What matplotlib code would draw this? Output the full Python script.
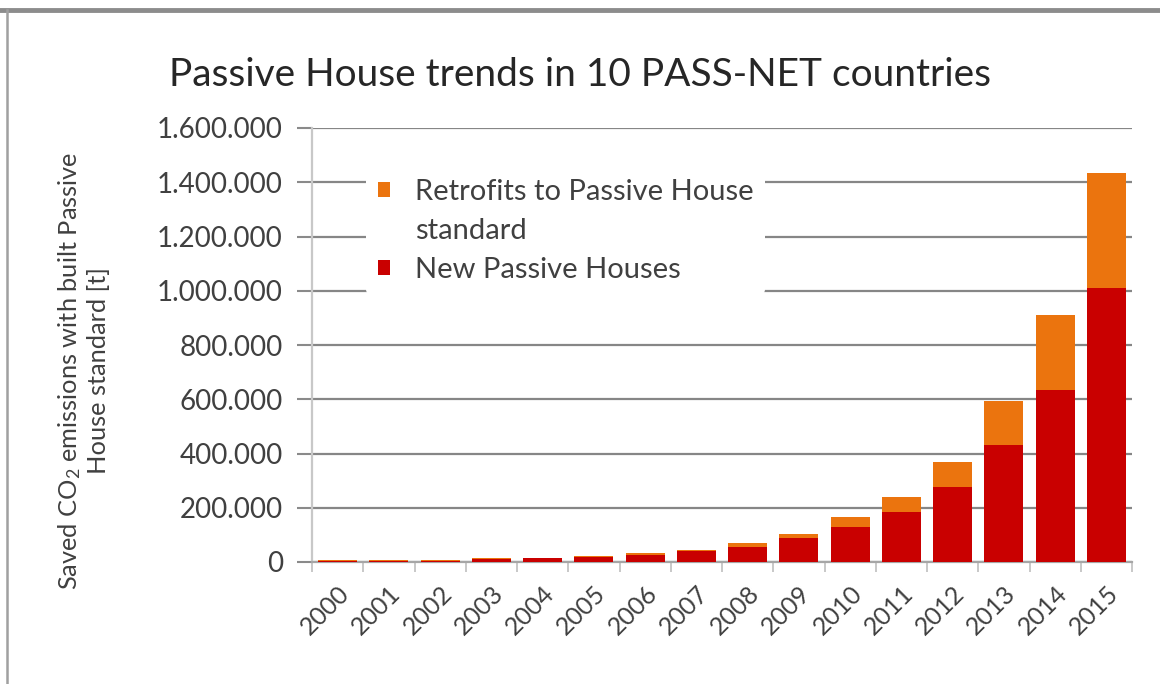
import matplotlib
matplotlib.use("Agg")
import matplotlib.pyplot as plt
from matplotlib.ticker import FuncFormatter, MultipleLocator, FixedLocator
from matplotlib.lines import Line2D
from matplotlib.patches import Rectangle

plt.rcParams['font.family'] = ['Lato', 'DejaVu Sans']
plt.rcParams['mathtext.fontset'] = 'custom'
plt.rcParams['mathtext.rm'] = 'Lato'
plt.rcParams['mathtext.default'] = 'regular'

years = ["2000", "2001", "2002", "2003", "2004", "2005", "2006", "2007",
         "2008", "2009", "2010", "2011", "2012", "2013", "2014", "2015"]
new_houses = [5000, 5000, 5000, 11000, 13000, 18000, 27000, 40000,
              55000, 88000, 129000, 184000, 276000, 431000, 634000, 1010000]
retrofits = [1000, 1000, 1000, 3000, 3000, 4000, 5000, 6000,
             15000, 14000, 37000, 56000, 92000, 163000, 276000, 423000]

title = "Passive House trends in 10 PASS-NET countries"
ylabel = "Saved CO$_2$ emissions with built Passive\nHouse standard [t]"
label_retro_1 = "Retrofits to Passive House"
label_retro_2 = "standard"
label_new = "New Passive Houses"

RED = "#C90000"
ORANGE = "#EB740E"
TXT = "#404040"

fig = plt.figure(figsize=(11.6, 6.84), dpi=100)
ax = fig.add_axes([312/1160, 1 - 562/684, 820/1160, 434/684])

x = list(range(len(years)))
b1 = ax.bar(x, new_houses, width=0.76, color=RED, label=label_new, zorder=3)
b2 = ax.bar(x, retrofits, width=0.76, bottom=new_houses, color=ORANGE,
            label=label_retro_1, zorder=3)

ax.set_xlim(-0.5, len(years) - 0.5)
ax.set_ylim(0, 1600000)
ax.yaxis.set_major_locator(MultipleLocator(200000))
ax.yaxis.set_major_formatter(FuncFormatter(lambda v, p: f"{int(v):,}".replace(",", ".")))

ax.set_xticks(x)
ax.set_xticklabels(years, rotation=45, ha='right', rotation_mode='anchor',
                   fontsize=18, color=TXT)
ax.xaxis.set_minor_locator(FixedLocator([i + 0.5 for i in range(-1, len(years))]))
ax.tick_params(axis='x', which='major', length=0, pad=14)
ax.tick_params(axis='x', which='minor', length=7, color='#BFBFBF', width=1.2)
ax.tick_params(axis='y', which='major', length=11, color='#8A8A8A', width=1.5,
               labelsize=20, labelcolor=TXT, pad=10)

ax.yaxis.grid(True, color='#868686', linewidth=1.6, zorder=0)
ax.set_axisbelow(True)
gl = ax.get_ygridlines()
gl[-1].set_visible(False)
ax.yaxis.get_major_ticks()[-1].tick1line.set_visible(False)

for s in ['top', 'right']:
    ax.spines[s].set_visible(False)
ax.spines['left'].set_color('#C8C8C8')
ax.spines['left'].set_linewidth(1.6)
ax.spines['bottom'].set_color('#A6A6A6')
ax.spines['bottom'].set_linewidth(1.6)

ax.set_title(title, fontsize=28, color='#262626', pad=0,
             x=(580 - 312) / 820, y=1 + (128 - 86) / 434)

ax.set_ylabel(ylabel, fontsize=18.3, color=TXT, ha='center', va='center',
              multialignment='center')
ax.yaxis.set_label_coords(-0.279, 0.44)

blank = Rectangle((0, 0), 1, 1, facecolor='none', edgecolor='none')
leg = ax.legend(handles=[b2, blank, b1],
                labels=[label_retro_1, label_retro_2, label_new],
                loc='upper left', bbox_to_anchor=(0.066, 0.91),
                frameon=True, facecolor='white', edgecolor='none', framealpha=1,
                fontsize=21, handlelength=0.42, handleheight=0.42,
                handletextpad=0.85, labelspacing=0.45, borderpad=0.4,
                borderaxespad=0)
for t in leg.get_texts():
    t.set_color(TXT)
leg.set_zorder(5)

fig.add_artist(Line2D([0, 1], [1 - 10/684, 1 - 10/684], transform=fig.transFigure,
                      color='#8C8C8C', linewidth=3.5))
fig.add_artist(Line2D([7/1160, 7/1160], [0, 1 - 10/684], transform=fig.transFigure,
                      color='#A0A0A0', linewidth=1.8))

fig.savefig("out.png", dpi=100, facecolor='white')
